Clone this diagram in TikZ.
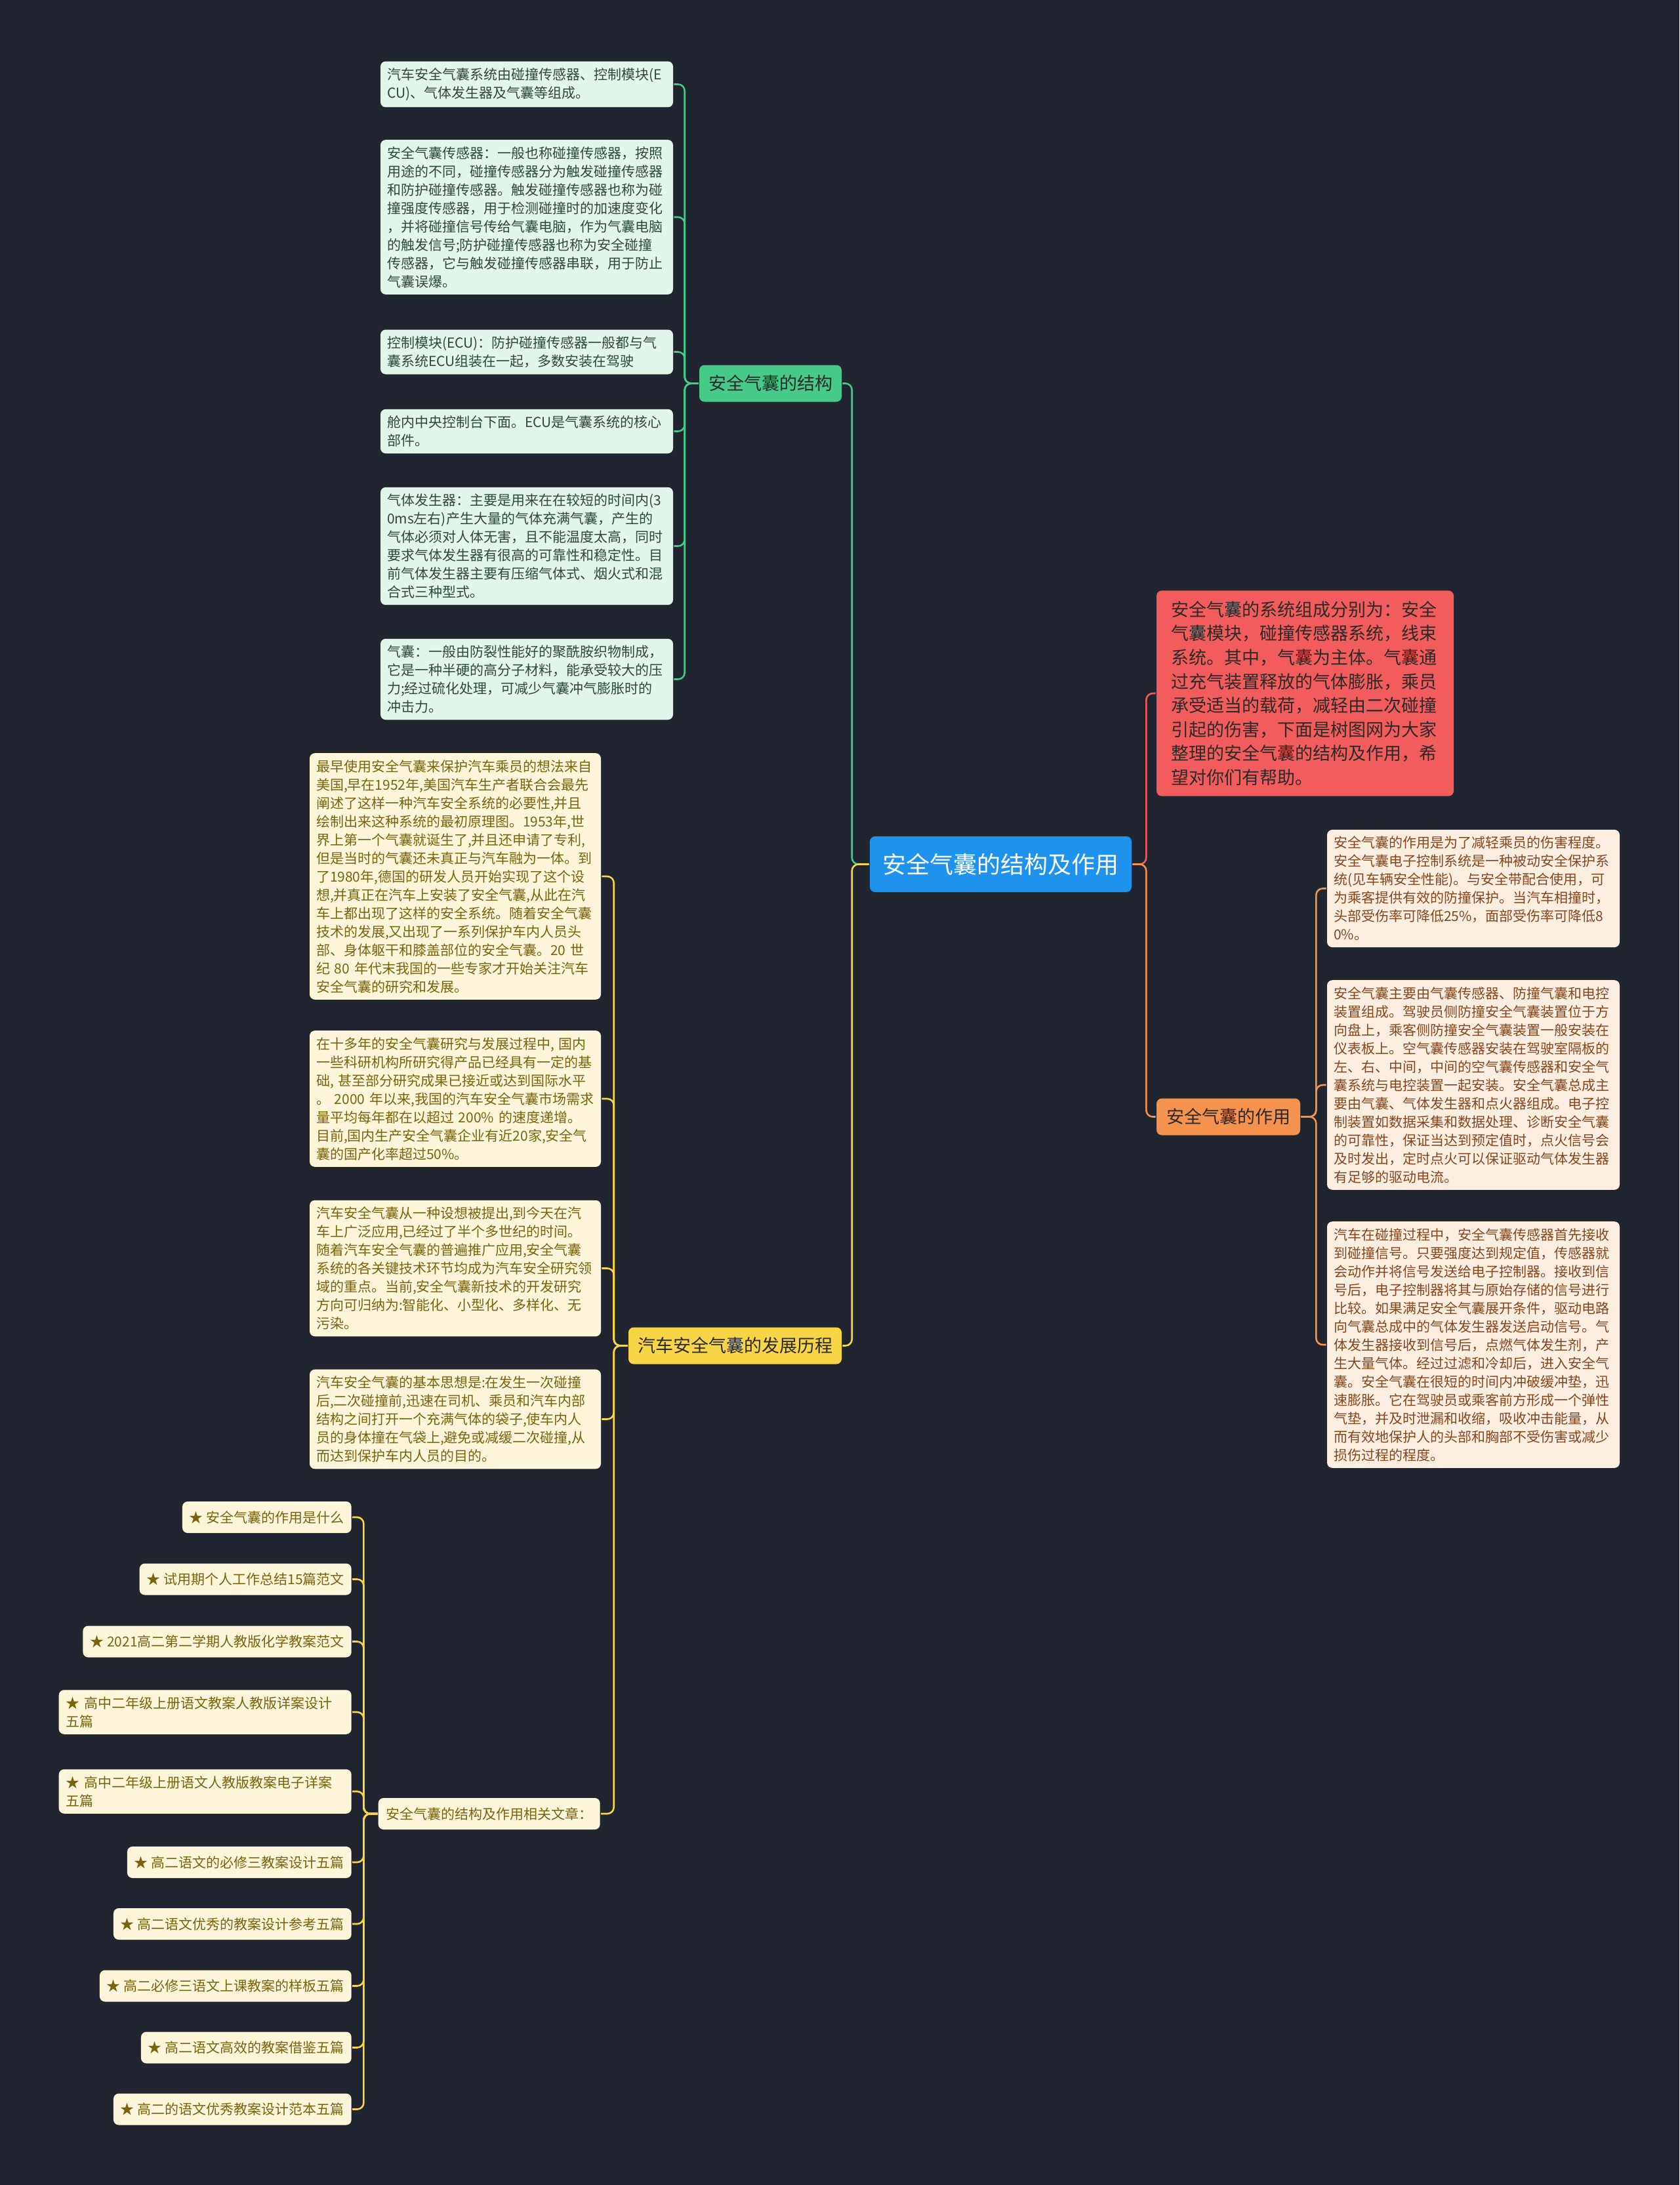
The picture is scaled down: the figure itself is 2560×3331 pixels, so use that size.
\documentclass[tikz,border=0pt]{standalone}
\usepackage{fontspec}
\setmainfont{Noto Sans CJK SC}
\usepackage{tikz}
\usetikzlibrary{positioning}
\definecolor{bgnavy}{HTML}{21252F}
\definecolor{rootblue}{HTML}{1E93EE}
\definecolor{strgreen}{HTML}{47C98A}
\definecolor{strleaf}{HTML}{E2F6EB}
\definecolor{strtext}{HTML}{2B4A3A}
\definecolor{devyellow}{HTML}{F8D447}
\definecolor{devleaf}{HTML}{FDF6DA}
\definecolor{devtext}{HTML}{7A630C}
\definecolor{sysred}{HTML}{F25C5C}
\definecolor{funorange}{HTML}{F5924E}
\definecolor{funleaf}{HTML}{FDEEE2}
\definecolor{funtext}{HTML}{86461A}
\definecolor{darktext}{HTML}{2A2A2A}
\tikzset{
	rootnode/.style={fill=rootblue, text=white, rounded corners=4pt,
		minimum width=199.5pt, minimum height=42.5pt, font=\fontsize{18}{22}\selectfont},
	branch/.style={rounded corners=4pt, text=darktext, minimum height=28pt,
		font=\fontsize{13.5}{16}\selectfont},
	strleafnode/.style={fill=strleaf, text=strtext, rounded corners=4pt, align=left,
		text width=213pt, inner xsep=5pt, inner ysep=5pt, font=\fontsize{10.5}{14}\selectfont},
	devleafnode/.style={fill=devleaf, text=devtext, rounded corners=4pt, align=left,
		text width=212pt, inner xsep=5pt, inner ysep=5pt, font=\fontsize{10.5}{14}\selectfont},
	funleafnode/.style={fill=funleaf, text=funtext, rounded corners=4pt, align=left,
		text width=213pt, inner xsep=5pt, inner ysep=5pt, font=\fontsize{10.5}{14}\selectfont},
	linknode/.style={fill=devleaf, text=devtext, rounded corners=4pt, anchor=east,
		minimum height=24pt, inner xsep=5.5pt, font=\fontsize{10.5}{14}\selectfont},
	sysnode/.style={fill=sysred, text=darktext, rounded corners=4pt, align=left,
		text width=204.5pt, inner xsep=11pt, inner ysep=8pt, font=\fontsize{13.5}{18.3}\selectfont},
	strline/.style={draw=strgreen, rounded corners=5pt},
	devline/.style={draw=devyellow, rounded corners=5pt},
	sysline/.style={draw=sysred, rounded corners=5pt},
	funline/.style={draw=funorange, rounded corners=5pt},
}

\begin{document}
\begin{tikzpicture}[x=0.5pt, y=-0.5pt, line width=1.3pt]
	\fill[bgnavy] (0,0) rectangle (2560,3331);
	\useasboundingbox (0,0) rectangle (2560,3331);

	\node[rootnode] (root) at (1525.5,1317.5) {安全气囊的结构及作用};

	% structure
	\node[branch, fill=strgreen, minimum width=108.5pt] (strc) at (1174.5,584.5) {安全气囊的结构};
	\node[strleafnode] (gl1) at (803,128.5) {汽车安全气囊系统由碰撞传感器、控制模块(E\\CU)、气体发生器及气囊等组成。};
	\node[strleafnode] (gl2) at (803,331) {安全气囊传感器：一般也称碰撞传感器，按照\\用途的不同，碰撞传感器分为触发碰撞传感器\\和防护碰撞传感器。触发碰撞传感器也称为碰\\撞强度传感器，用于检测碰撞时的加速度变化\\，并将碰撞信号传给气囊电脑，作为气囊电脑\\的触发信号;防护碰撞传感器也称为安全碰撞\\传感器，它与触发碰撞传感器串联，用于防止\\气囊误爆。};
	\node[strleafnode] (gl3) at (803,536.5) {控制模块(ECU)：防护碰撞传感器一般都与气\\囊系统ECU组装在一起，多数安装在驾驶};
	\node[strleafnode] (gl4) at (803,657.5) {舱内中央控制台下面。ECU是气囊系统的核心\\部件。};
	\node[strleafnode] (gl5) at (803,832.5) {气体发生器：主要是用来在在较短的时间内(3\\0ms左右)产生大量的气体充满气囊，产生的\\气体必须对人体无害，且不能温度太高，同时\\要求气体发生器有很高的可靠性和稳定性。目\\前气体发生器主要有压缩气体式、烟火式和混\\合式三种型式。};
	\node[strleafnode] (gl6) at (803,1035.5) {气囊：一般由防裂性能好的聚酰胺织物制成，\\它是一种半硬的高分子材料，能承受较大的压\\力;经过硫化处理，可减少气囊冲气膨胀时的\\冲击力。};

	\draw[strline] (root.west) -- ++(-26,0) |- (strc.east);
	\draw[strline] (strc.west) -- ++(-21,0) |- (gl1.east);
	\draw[strline] (strc.west) -- ++(-21,0) |- (gl2.east);
	\draw[strline] (strc.west) -- ++(-21,0) |- (gl3.east);
	\draw[strline] (strc.west) -- ++(-21,0) |- (gl4.east);
	\draw[strline] (strc.west) -- ++(-21,0) |- (gl5.east);
	\draw[strline] (strc.west) -- ++(-21,0) |- (gl6.east);

	% development
	\node[branch, fill=devyellow, minimum width=162.5pt] (devp) at (1120.5,2051.5) {汽车安全气囊的发展历程};
	\node[devleafnode] (yl1) at (694,1336) {最早使用安全气囊来保护汽车乘员的想法来自\\美国,早在1952年,美国汽车生产者联合会最先\\阐述了这样一种汽车安全系统的必要性,并且\\绘制出来这种系统的最初原理图。1953年,世\\界上第一个气囊就诞生了,并且还申请了专利,\\但是当时的气囊还未真正与汽车融为一体。到\\了1980年,德国的研发人员开始实现了这个设\\想,并真正在汽车上安装了安全气囊,从此在汽\\车上都出现了这样的安全系统。随着安全气囊\\技术的发展,又出现了一系列保护车内人员头\\部、身体躯干和膝盖部位的安全气囊。20 世\\纪 80 年代末我国的一些专家才开始关注汽车\\安全气囊的研究和发展。};
	\node[devleafnode] (yl2) at (694,1675) {在十多年的安全气囊研究与发展过程中, 国内\\一些科研机构所研究得产品已经具有一定的基\\础, 甚至部分研究成果已接近或达到国际水平\\。 2000 年以来,我国的汽车安全气囊市场需求\\量平均每年都在以超过 200\% 的速度递增。\\目前,国内生产安全气囊企业有近20家,安全气\\囊的国产化率超过50\%。};
	\node[devleafnode] (yl3) at (694,1933.5) {汽车安全气囊从一种设想被提出,到今天在汽\\车上广泛应用,已经过了半个多世纪的时间。\\随着汽车安全气囊的普遍推广应用,安全气囊\\系统的各关键技术环节均成为汽车安全研究领\\域的重点。当前,安全气囊新技术的开发研究\\方向可归纳为:智能化、小型化、多样化、无\\污染。};
	\node[devleafnode] (yl4) at (694,2163.5) {汽车安全气囊的基本思想是:在发生一次碰撞\\后,二次碰撞前,迅速在司机、乘员和汽车内部\\结构之间打开一个充满气体的袋子,使车内人\\员的身体撞在气袋上,避免或减缓二次碰撞,从\\而达到保护车内人员的目的。};
	\node[linknode, minimum width=169pt] (yl5) at (916,2765) {安全气囊的结构及作用相关文章：};

	\draw[devline] (root.west) -- ++(-26,0) |- (devp.east);
	\draw[devline] (devp.west) -- ++(-21,0) |- (yl1.east);
	\draw[devline] (devp.west) -- ++(-21,0) |- (yl2.east);
	\draw[devline] (devp.west) -- ++(-21,0) |- (yl3.east);
	\draw[devline] (devp.west) -- ++(-21,0) |- (yl4.east);
	\draw[devline] (devp.west) -- ++(-21,0) |- (yl5.east);

	% related articles
	\node[linknode] (c1) at (537,2313) {★ 安全气囊的作用是什么};
	\node[linknode] (c2) at (537,2407.5) {★ 试用期个人工作总结15篇范文};
	\node[linknode] (c3) at (537,2502.5) {★ 2021高二第二学期人教版化学教案范文};
	\node[linknode, align=left, text width=212pt, inner ysep=5pt] (c4) at (537,2610) {★ 高中二年级上册语文教案人教版详案设计\\五篇};
	\node[linknode, align=left, text width=212pt, inner ysep=5pt] (c5) at (537,2731) {★ 高中二年级上册语文人教版教案电子详案\\五篇};
	\node[linknode] (c6) at (537,2839) {★ 高二语文的必修三教案设计五篇};
	\node[linknode] (c7) at (537,2933) {★ 高二语文优秀的教案设计参考五篇};
	\node[linknode] (c8) at (537,3027.5) {★ 高二必修三语文上课教案的样板五篇};
	\node[linknode] (c9) at (537,3121.5) {★ 高二语文高效的教案借鉴五篇};
	\node[linknode] (c10) at (537,3215.5) {★ 高二的语文优秀教案设计范本五篇};

	\draw[devline] (yl5.west) -- ++(-21,0) |- (c1.east);
	\draw[devline] (yl5.west) -- ++(-21,0) |- (c2.east);
	\draw[devline] (yl5.west) -- ++(-21,0) |- (c3.east);
	\draw[devline] (yl5.west) -- ++(-21,0) |- (c4.east);
	\draw[devline] (yl5.west) -- ++(-21,0) |- (c5.east);
	\draw[devline] (yl5.west) -- ++(-21,0) |- (c6.east);
	\draw[devline] (yl5.west) -- ++(-21,0) |- (c7.east);
	\draw[devline] (yl5.west) -- ++(-21,0) |- (c8.east);
	\draw[devline] (yl5.west) -- ++(-21,0) |- (c9.east);
	\draw[devline] (yl5.west) -- ++(-21,0) |- (c10.east);

	% system summary
	\node[sysnode] (sysm) at (1989.5,1057) {安全气囊的系统组成分别为：安全\\气囊模块，碰撞传感器系统，线束\\系统。其中，气囊为主体。气囊通\\过充气装置释放的气体膨胀，乘员\\承受适当的载荷，减轻由二次碰撞\\引起的伤害，下面是树图网为大家\\整理的安全气囊的结构及作用，希\\望对你们有帮助。};
	\draw[sysline] (root.east) -- ++(21,0) |- (sysm.west);

	% function
	\node[branch, fill=funorange, minimum width=109.5pt] (func) at (1872.5,1702.5) {安全气囊的作用};
	\node[funleafnode] (ol1) at (2246,1354.5) {安全气囊的作用是为了减轻乘员的伤害程度。\\安全气囊电子控制系统是一种被动安全保护系\\统(见车辆安全性能)。与安全带配合使用，可\\为乘客提供有效的防撞保护。当汽车相撞时，\\头部受伤率可降低25\%，面部受伤率可降低8\\0\%。};
	\node[funleafnode] (ol2) at (2246,1654) {安全气囊主要由气囊传感器、防撞气囊和电控\\装置组成。驾驶员侧防撞安全气囊装置位于方\\向盘上，乘客侧防撞安全气囊装置一般安装在\\仪表板上。空气囊传感器安装在驾驶室隔板的\\左、右、中间，中间的空气囊传感器和安全气\\囊系统与电控装置一起安装。安全气囊总成主\\要由气囊、气体发生器和点火器组成。电子控\\制装置如数据采集和数据处理、诊断安全气囊\\的可靠性，保证当达到预定值时，点火信号会\\及时发出，定时点火可以保证驱动气体发生器\\有足够的驱动电流。};
	\node[funleafnode] (ol3) at (2246,2050) {汽车在碰撞过程中，安全气囊传感器首先接收\\到碰撞信号。只要强度达到规定值，传感器就\\会动作并将信号发送给电子控制器。接收到信\\号后，电子控制器将其与原始存储的信号进行\\比较。如果满足安全气囊展开条件，驱动电路\\向气囊总成中的气体发生器发送启动信号。气\\体发生器接收到信号后，点燃气体发生剂，产\\生大量气体。经过过滤和冷却后，进入安全气\\囊。安全气囊在很短的时间内冲破缓冲垫，迅\\速膨胀。它在驾驶员或乘客前方形成一个弹性\\气垫，并及时泄漏和收缩，吸收冲击能量，从\\而有效地保护人的头部和胸部不受伤害或减少\\损伤过程的程度。};

	\draw[funline] (root.east) -- ++(21,0) |- (func.west);
	\draw[funline] (func.east) -- ++(23,0) |- (ol1.west);
	\draw[funline] (func.east) -- ++(23,0) |- (ol2.west);
	\draw[funline] (func.east) -- ++(23,0) |- (ol3.west);
\end{tikzpicture}
\end{document}
